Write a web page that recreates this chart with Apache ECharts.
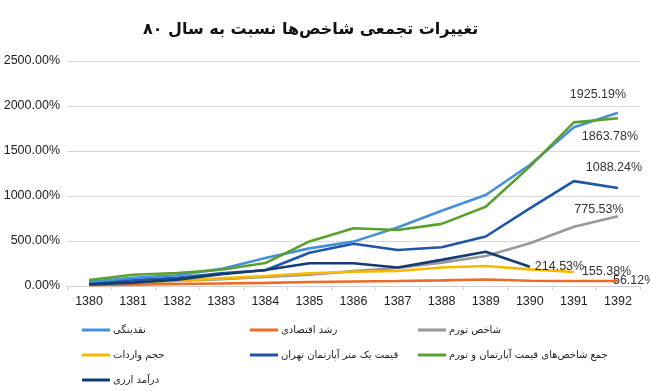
<!DOCTYPE html>
<html>
<head>
<meta charset="utf-8">
<script src="https://cdn.jsdelivr.net/npm/echarts@6/dist/echarts.min.js"></script>
<style>
html,body{margin:0;padding:0;background:#fff;}
#chart{width:650px;height:391px;}
</style>
</head>
<body>
<div id="chart"></div>
<script>
const titleText = 'تغییرات تجمعی شاخص‌ها نسبت به سال ٨٠';
const categories = ['1380','1381','1382','1383','1384','1385','1386','1387','1388','1389','1390','1391','1392'];
const yTicks = [0, 500, 1000, 1500, 2000, 2500];

const nameLiquidity = 'نقدینگی';
const nameGrowth = 'رشد اقتصادی';
const nameInflation = 'شاخص تورم';
const nameImports = 'حجم واردات';
const nameApartment = 'قیمت یک متر آپارتمان تهران';
const nameSum = 'جمع شاخص‌های قیمت آپارتمان و تورم';
const nameFx = 'درآمد ارزی';

const liquidity = [48, 90, 120, 190, 310, 418, 493, 650, 837, 1011, 1344, 1763, 1925.19];
const growth    = [10, 15, 22, 28, 35, 45, 50, 55, 62, 72, 58, 56, 56.12];
const inflation = [20, 38, 55, 75, 100, 125, 165, 200, 260, 333, 474, 659, 775.53];
const imports   = [22, 40, 58, 85, 111, 141, 159, 167, 205, 222, 185, 155.38];
const apartment = [30, 65, 90, 140, 175, 370, 470, 400, 430, 550, 863, 1165, 1088.24];
const sumIdx    = [66, 125, 145, 180, 255, 495, 641, 622, 690, 881, 1326, 1818, 1863.78];
const fxIncome  = [18, 38, 70, 130, 178, 252, 252, 205, 290, 380, 214.53];

const numFont = 'Liberation Sans';
function withLastLabel(arr, pos, offset) {
  return arr.map((v, i) => {
    if (i !== arr.length - 1) return v;
    return {
      value: v,
      label: {
        show: true, position: pos, offset: offset, distance: 5,
        formatter: (p) => p.value.toFixed(2) + '%',
        color: '#333', fontSize: 12.5, fontFamily: numFont
      }
    };
  });
}

function mkSeries(name, data, color, pos, offset, z) {
  return {
    name: name, type: 'line', data: withLastLabel(data, pos, offset),
    symbol: 'circle', symbolSize: 0.01, showSymbol: true, z: z || 2,
    lineStyle: { color: color, width: 2.6 },
    itemStyle: { color: color },
    emphasis: { disabled: true },
    animation: false
  };
}

const colors = {
  liquidity: '#4590d6', growth: '#ee6b24', inflation: '#999999', imports: '#f8b800',
  apartment: '#1f56a8', sum: '#5aa02c', fx: '#143c73'
};

const legendCommon = {
  orient: 'vertical', icon: 'rect', itemWidth: 28, itemHeight: 3, itemGap: 15,
  textStyle: { fontSize: 10, color: '#222', fontFamily: 'DejaVu Sans', padding: [0, 0, 0, -2] },
  selectedMode: false
};

const chart = echarts.init(document.getElementById('chart'), null, { renderer: 'canvas' });
chart.setOption({
  animation: false,
  backgroundColor: '#ffffff',
  title: {
    text: titleText, left: 138, top: 17,
    textStyle: { fontSize: 16, fontWeight: 'bold', color: '#111', fontFamily: 'DejaVu Sans' }
  },
  legend: [
    Object.assign({}, legendCommon, { left: 77, top: 320, data: [nameLiquidity, nameImports, nameFx] }),
    Object.assign({}, legendCommon, { left: 245, top: 320, data: [nameGrowth, nameApartment] }),
    Object.assign({}, legendCommon, { left: 413, top: 320, data: [nameInflation, nameSum] })
  ],
  grid: { left: 67, right: 10, top: 61, bottom: 105 },
  xAxis: {
    type: 'category', data: categories, boundaryGap: true,
    axisLine: { lineStyle: { color: '#d0d0d0' } },
    axisTick: { show: true, length: 4, lineStyle: { color: '#d0d0d0' } },
    axisLabel: { color: '#222', fontSize: 12.5, fontFamily: numFont, margin: 9 }
  },
  yAxis: {
    type: 'value', min: yTicks[0], max: yTicks[yTicks.length - 1], interval: 500,
    axisLine: { show: false }, axisTick: { show: false },
    splitLine: { lineStyle: { color: '#d9d9d9' } },
    axisLabel: { color: '#222', fontSize: 12.5, fontFamily: numFont, margin: 7,
      formatter: (v) => v.toFixed(2) + '%' }
  },
  series: [
    mkSeries(nameLiquidity, liquidity, colors.liquidity, 'top', [-20, -7], 3),
    mkSeries(nameGrowth, growth, colors.growth, 'right', [-10, 0], 2),
    mkSeries(nameInflation, inflation, colors.inflation, 'top', [-19, 5], 2),
    mkSeries(nameImports, imports, colors.imports, 'right', [3, 0], 2),
    mkSeries(nameApartment, apartment, colors.apartment, 'top', [-4, -9], 2),
    mkSeries(nameSum, sumIdx, colors.sum, 'bottom', [-8, 7], 4),
    mkSeries(nameFx, fxIncome, colors.fx, 'right', [0, 0], 2)
  ]
});
</script>
</body>
</html>
